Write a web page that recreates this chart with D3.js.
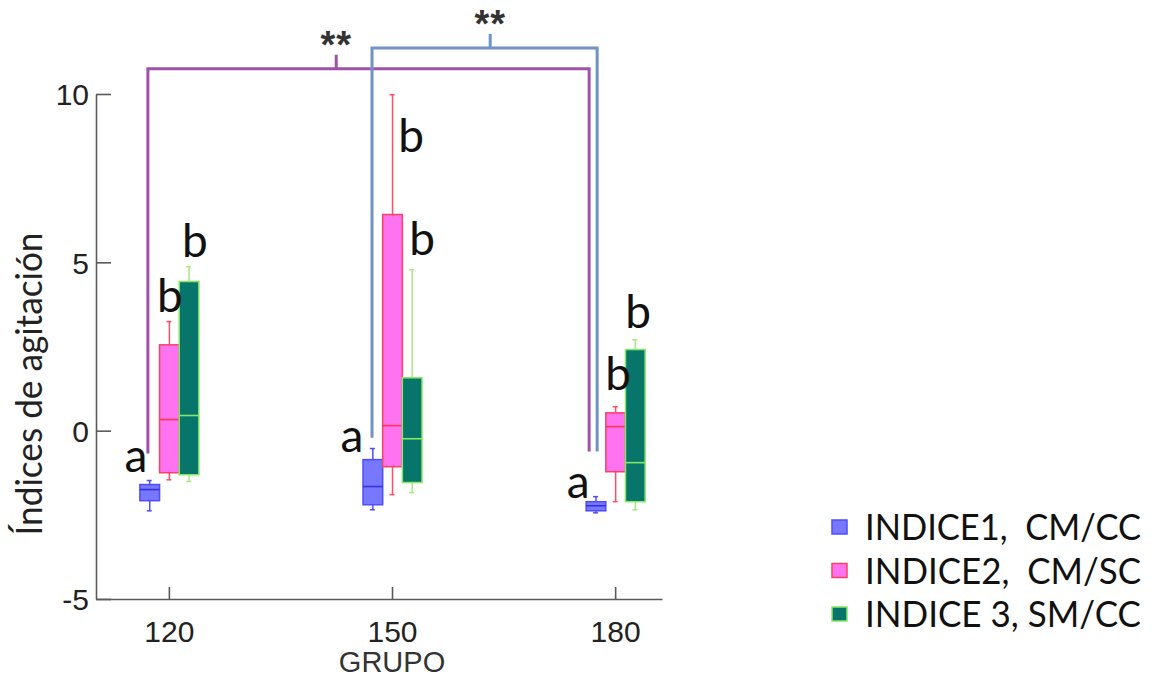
<!DOCTYPE html>
<html>
<head>
<meta charset="utf-8">
<script src="https://cdn.jsdelivr.net/npm/d3@7"></script>
<style>
	body { margin: 0; background: #fff; }
	svg { display: block; }
</style>
</head>
<body>
<svg id="chart" width="1156" height="677"></svg>
<script>
/* global d3 */

const groups = [120, 150, 180];
const seriesNames = ['INDICE1,  CM/CC', 'INDICE2,  CM/SC', 'INDICE 3, SM/CC'];

// [low whisker, q1, median, q3, high whisker] for each group
const indice1 = [[-2.38, -2.08, -1.75, -1.60, -1.48], [-2.35, -2.20, -1.66, -0.86, -0.53], [-2.44, -2.38, -2.23, -2.11, -1.96]];
const indice2 = [[-1.46, -1.25, 0.33, 2.55, 3.24], [-1.90, -1.07, 0.15, 6.42, 9.98], [-2.11, -1.22, 0.12, 0.53, 0.71]];
const indice3 = [[-1.51, -1.31, 0.45, 4.43, 4.87], [-1.84, -1.54, -0.24, 1.57, 4.78], [-2.35, -2.11, -0.95, 2.41, 2.70]];

const yTicks = [-5, 0, 5, 10];

// significance letters, one per box, and the value where each sits
const letters = [['a', 'b', 'b'], ['a', 'b', 'b'], ['a', 'b', 'b']];
const letterValues = [[-1.22, 3.53, 5.17], [-0.62, 8.29, 5.23], [-1.99, 1.22, 3.06]];

// brackets between groups
const bracketPairs = [[120, 180], [150, 180]];
const bracketTop = [10.75, 11.37];
const bracketFeet = [[-0.68, -0.62], [-0.21, -0.62]];
const bracketMark = [142.5, 163.2];
const bracketLabels = ['**', '**'];

const series = [indice1, indice2, indice3];
const fills = ['#7777ff', '#ff73f0', '#08756a'];
const strokes = ['#4d4dff', '#ff4066', '#86e866'];
const whiskerColors = ['#4d4dff', '#ff4d66', '#a8ea80'];
const medianColors = ['#3434d8', '#ff3355', '#86e866'];
const bracketColors = ['#a052aa', '#6f93c5'];

const svg = d3.select('#chart');

const x = d3.scaleLinear().domain([110.2, 186.3]).range([96, 662]);
const y = d3.scaleLinear().domain([-5, 10]).range([599, 94]);
const inner = d3.scaleBand().domain([0, 1, 2]).range([-29, 30]).paddingInner(0);
const bw = inner.bandwidth();

// axes, ticks pointing inward
const xAxis = svg.append('g')
	.attr('transform', `translate(0,${y(-5)})`)
	.call(d3.axisBottom(x).tickValues(groups).tickSizeInner(-12).tickSizeOuter(0).tickFormat(d => String(d)));
xAxis.selectAll('text').attr('y', 43).attr('dy', null);

const yAxis = svg.append('g')
	.attr('transform', `translate(${x(110.2)},0)`)
	.call(d3.axisLeft(y).tickValues(yTicks).tickSizeInner(-15).tickSizeOuter(0).tickPadding(7).tickFormat(d => String(d)));
yAxis.selectAll('text').attr('dy', '0.36em');

svg.selectAll('.tick text')
	.style('font-family', "'Liberation Sans', Arial, sans-serif")
	.style('font-size', '30px')
	.style('fill', '#222');
svg.selectAll('.domain, .tick line').attr('stroke', '#5a5a5a').attr('stroke-width', 1.6);

svg.append('text')
	.attr('x', x(150))
	.attr('y', 672)
	.attr('text-anchor', 'middle')
	.style('font-family', "'Liberation Sans', Arial, sans-serif")
	.style('font-size', '29px')
	.style('fill', '#333')
	.text('GRUPO');

svg.append('text')
	.attr('transform', 'translate(42,384) rotate(-90)')
	.attr('text-anchor', 'middle')
	.attr('textLength', 303)
	.attr('lengthAdjust', 'spacingAndGlyphs')
	.style('font-family', 'Lato, sans-serif')
	.style('font-size', '36px')
	.style('fill', '#222')
	.text('Índices de agitación');

// brackets
bracketPairs.forEach((pair, i) => {
	const off = i === 0 ? [-21, -26] : [-20, -18];
	const x0 = x(pair[0]) + off[0];
	const x1 = x(pair[1]) + off[1];
	const top = y(bracketTop[i]);
	const g = svg.append('g')
		.attr('fill', 'none')
		.attr('stroke', bracketColors[i])
		.attr('stroke-width', 3);
	g.append('path')
		.attr('d', `M${x0},${y(bracketFeet[i][0])}V${top}H${x1}V${y(bracketFeet[i][1])}`);
	g.append('line')
		.attr('x1', x(bracketMark[i])).attr('x2', x(bracketMark[i]))
		.attr('y1', top).attr('y2', top - 14);
	svg.append('text')
		.attr('x', x(bracketMark[i]))
		.attr('y', top - 11)
		.attr('text-anchor', 'middle')
		.style('font-family', "'Liberation Sans', Arial, sans-serif")
		.style('font-weight', 'bold')
		.style('font-size', '38px')
		.style('letter-spacing', '1px')
		.style('fill', '#333')
		.text(bracketLabels[i]);
});

// boxes
series.forEach((data, s) => {
	const g = svg.append('g');
	data.forEach((d, gi) => {
		const cx = x(groups[gi]) + inner(s) + bw / 2;
		const [lo, q1, med, q3, hi] = d;
		g.append('line')
			.attr('x1', cx).attr('x2', cx)
			.attr('y1', y(q3)).attr('y2', y(hi))
			.attr('stroke', whiskerColors[s]).attr('stroke-width', 1.5);
		g.append('line')
			.attr('x1', cx).attr('x2', cx)
			.attr('y1', y(q1)).attr('y2', y(lo))
			.attr('stroke', whiskerColors[s]).attr('stroke-width', 1.5);
		[hi, lo].forEach(v => {
			g.append('line')
				.attr('x1', cx - 3).attr('x2', cx + 2)
				.attr('y1', y(v)).attr('y2', y(v))
				.attr('stroke', whiskerColors[s]).attr('stroke-width', 1.5);
		});
		g.append('rect')
			.attr('x', cx - bw / 2)
			.attr('width', bw)
			.attr('y', y(q3))
			.attr('height', y(q1) - y(q3))
			.attr('fill', fills[s])
			.attr('stroke', strokes[s])
			.attr('stroke-width', 1.5);
		g.append('line')
			.attr('x1', cx - bw / 2).attr('x2', cx + bw / 2)
			.attr('y1', y(med)).attr('y2', y(med))
			.attr('stroke', medianColors[s]).attr('stroke-width', 1.6);
	});
});

// letters
const letterDx = [[-33, 1, 26], [-40, 19, 30], [-37, 3, 23]];
letters.forEach((row, gi) => {
	row.forEach((t, s) => {
		svg.append('text')
			.attr('x', x(groups[gi]) + letterDx[gi][s])
			.attr('y', y(letterValues[gi][s]))
			.attr('text-anchor', 'middle')
			.style('font-family', 'Lato, sans-serif')
			.style('font-size', '46px')
			.style('fill', '#111')
			.text(t);
	});
});

// legend
const legend = svg.append('g').attr('transform', 'translate(832,0)');
seriesNames.forEach((name, i) => {
	const cy = 527 + i * 43.5;
	legend.append('rect')
		.attr('x', 0).attr('y', cy - 7)
		.attr('width', 15).attr('height', 14)
		.attr('fill', fills[i])
		.attr('stroke', strokes[i])
		.attr('stroke-width', 1.5);
	legend.append('text')
		.attr('x', 33)
		.attr('y', cy + 13)
		.attr('textLength', 276)
		.attr('lengthAdjust', 'spacingAndGlyphs')
		.style('white-space', 'pre')
		.style('font-family', 'Lato, sans-serif')
		.style('font-size', '36px')
		.style('fill', '#111')
		.text(name);
});
</script>
</body>
</html>
